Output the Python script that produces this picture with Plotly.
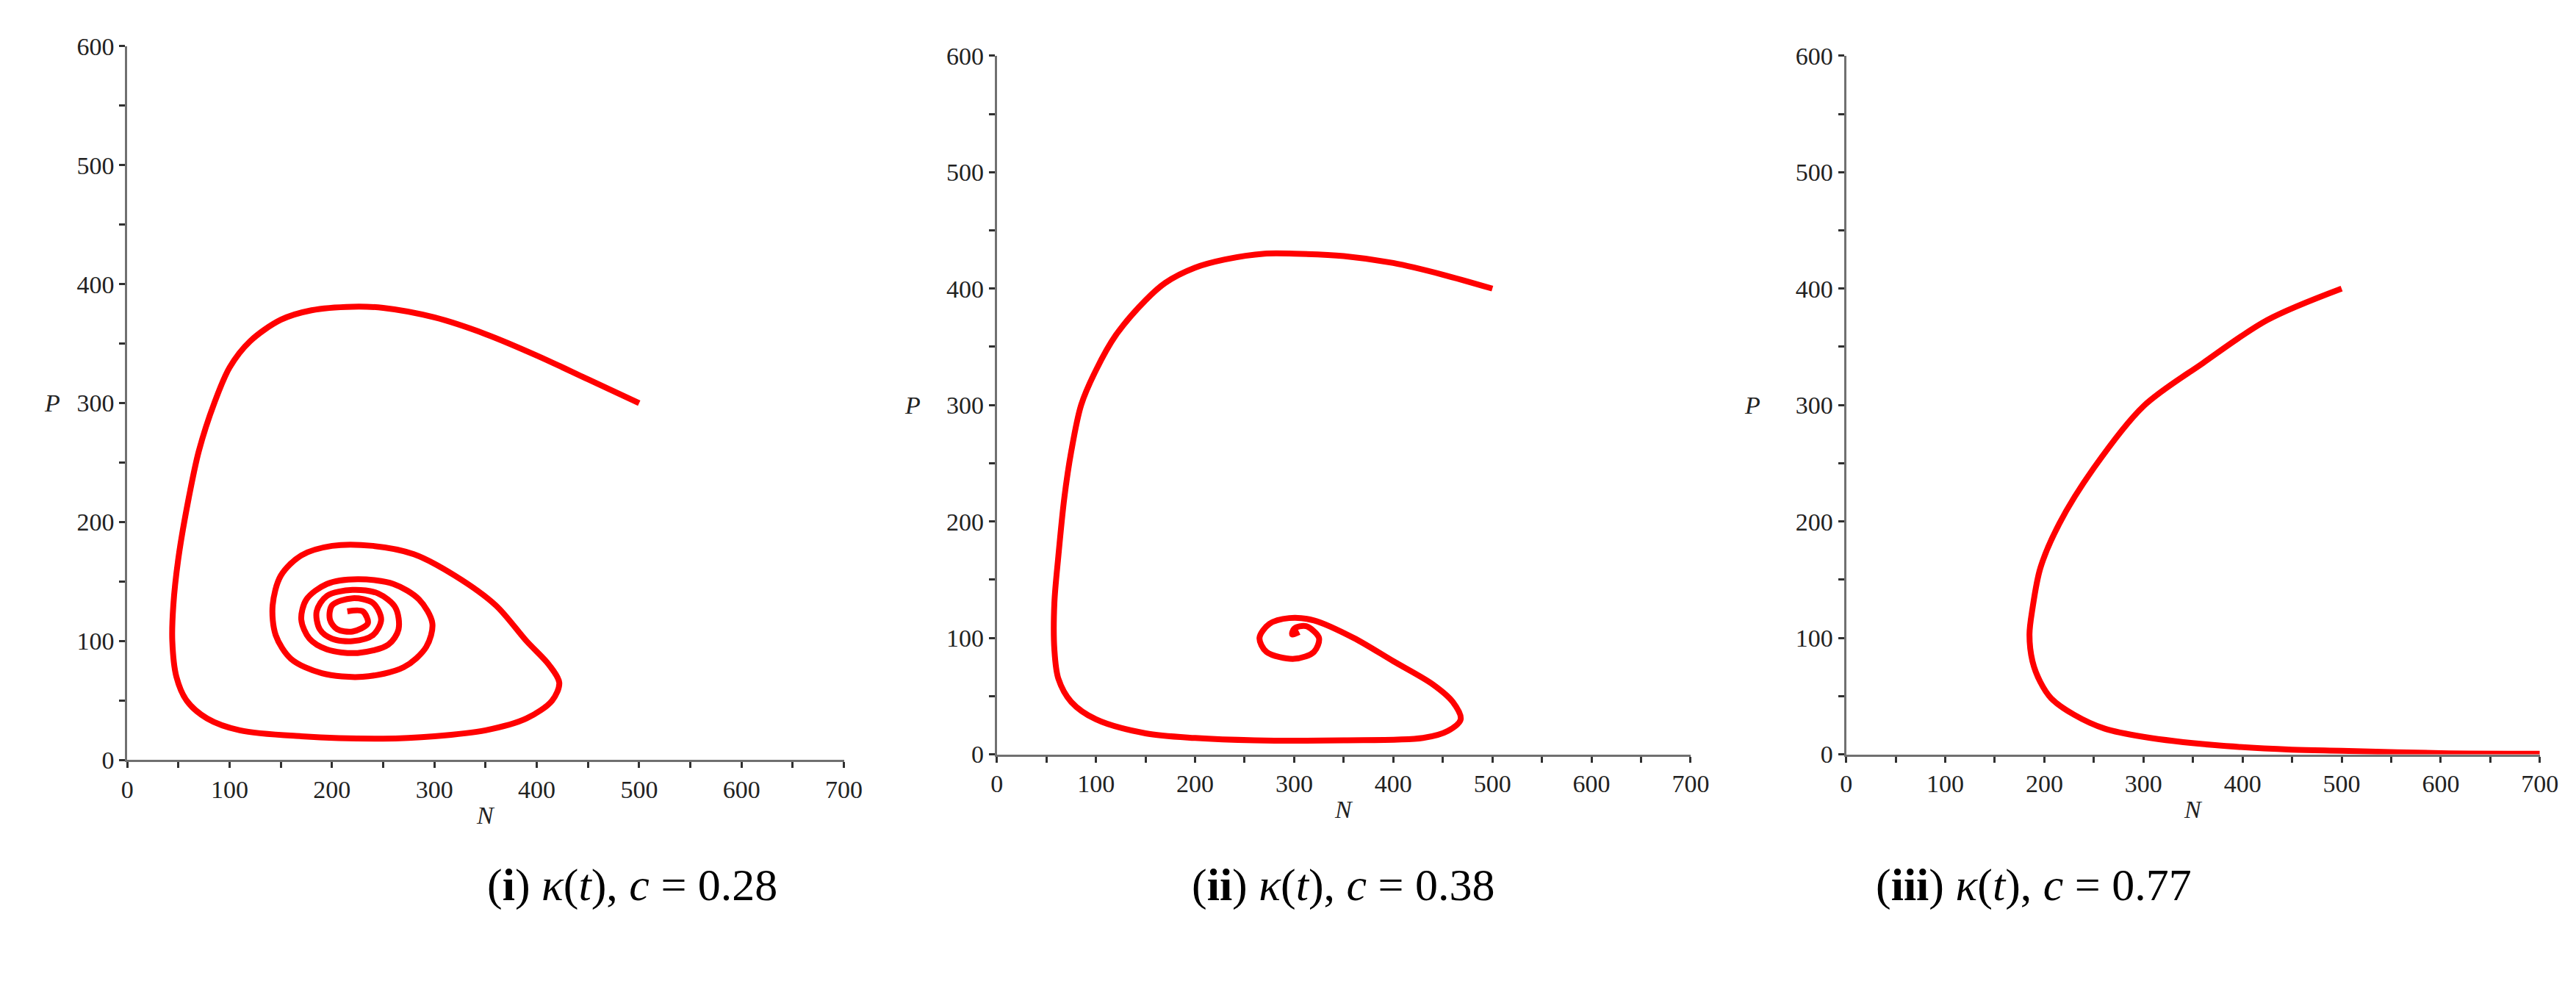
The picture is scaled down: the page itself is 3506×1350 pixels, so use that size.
import plotly.graph_objects as go

# Panel (i): c = 0.28, trajectory spiralling into the focus
n1 = [500, 450, 400, 350, 300, 250, 220, 180, 150, 120, 100, 85, 70, 60, 50, 45, 44, 48, 58, 78,
      110, 170, 250, 300, 350, 390, 415, 422, 412, 390, 360, 320, 280, 240, 200, 170, 150, 142,
      145, 160, 190, 230, 270, 292, 298, 285, 260, 225, 195, 175, 170, 178, 195, 225, 255, 265,
      262, 245, 220, 195, 185, 188, 200, 220, 240, 248, 240, 220, 200, 198, 205, 220, 235, 230, 215]
p1 = [300, 320, 340, 358, 372, 380, 381, 378, 370, 352, 330, 300, 260, 220, 170, 130, 100, 70, 50, 35,
      25, 20, 18, 20, 25, 35, 50, 65, 80, 100, 130, 155, 173, 180, 180, 172, 155, 130,
      105, 85, 73, 70, 78, 95, 115, 135, 148, 152, 148, 135, 118, 102, 93, 90, 97, 110,
      128, 140, 143, 138, 125, 110, 102, 100, 105, 118, 132, 136, 130, 118, 110, 108, 115, 125, 125]

# Panel (ii): c = 0.38
n2 = [500, 450, 400, 350, 300, 270, 230, 200, 170, 150, 120, 100, 85, 75, 68, 62, 58, 58, 62, 75,
      100, 150, 200, 260, 350, 430, 455, 468, 460, 440, 400, 360, 320, 295, 275, 265, 272, 300,
      320, 325, 312, 300, 298, 305]
p2 = [400, 412, 422, 428, 430, 430, 425, 418, 405, 390, 360, 330, 300, 260, 220, 170, 130, 90, 65, 45,
      30, 18, 14, 12, 12, 14, 20, 30, 45, 60, 80, 100, 115, 117, 112, 100, 88, 82,
      88, 100, 110, 108, 103, 105]

# Panel (iii): c = 0.77
n3 = [500, 425, 360, 300, 250, 215, 196, 188, 185, 188, 196, 207, 230, 261, 300, 370, 450, 500, 600, 700]
p3 = [400, 373, 336, 299, 246, 198, 160, 125, 103, 80, 62, 48, 34, 22, 15, 8, 4, 3, 1, 0.5]

panels = [(n1, p1), (n2, p2), (n3, p3)]
captions = ["(<b>i</b>) <i>κ</i>(<i>t</i>), <i>c</i> = 0.28",
            "(<b>ii</b>) <i>κ</i>(<i>t</i>), <i>c</i> = 0.38",
            "(<b>iii</b>) <i>κ</i>(<i>t</i>), <i>c</i> = 0.77"]

x_domains = [(0.045, 0.326), (0.386, 0.658), (0.719, 0.991)]
y_domains = [(0.232, 0.972), (0.238, 0.962), (0.238, 0.962)]

x_ticks = list(range(0, 701, 50))
y_ticks = list(range(0, 601, 50))
FONT = "Liberation Serif"

fig = go.Figure()
for i, (n, p) in enumerate(panels):
    k = "" if i == 0 else str(i + 1)
    fig.add_trace(go.Scatter(x=n, y=p, mode="lines", xaxis="x" + k, yaxis="y" + k,
                             line=dict(color="#ff0000", width=8, shape="spline", smoothing=0.9),
                             showlegend=False))
    common = dict(showgrid=False, zeroline=False, showline=True, linecolor="#707070", linewidth=3,
                  ticks="outside", ticklen=8, tickwidth=3, tickcolor="#303030",
                  tickfont=dict(family=FONT, size=34, color="#222"))
    fig.layout["xaxis" + k] = dict(domain=x_domains[i], range=[0, 700], anchor="y" + k,
                                   tickvals=x_ticks,
                                   ticktext=[str(v) if v % 100 == 0 else "" for v in x_ticks],
                                   **common)
    fig.layout["yaxis" + k] = dict(domain=y_domains[i], range=[0, 600], anchor="x" + k,
                                   tickvals=y_ticks,
                                   ticktext=[str(v) if v % 100 == 0 else "" for v in y_ticks],
                                   **common)
    xa = "x" + k
    ya = "y" + k
    fig.add_annotation(x=350, y=0, xref=xa, yref=ya, yshift=-75, text="<i>N</i>",
                       showarrow=False, font=dict(family=FONT, size=34, color="#222"))
    fig.add_annotation(x=x_domains[i][0], y=300, xref="paper", yref=ya, xshift=-115,
                       text="<i>P</i>", showarrow=False,
                       font=dict(family=FONT, size=34, color="#222"))
    fig.add_annotation(x=(x_domains[i][0] + x_domains[i][1]) / 2, y=0.075, xref="paper", yref="paper",
                       text=captions[i], showarrow=False,
                       font=dict(family=FONT, size=62, color="#000"))

fig.update_layout(width=3506, height=1350, margin=dict(l=0, r=0, t=0, b=0),
                  paper_bgcolor="white", plot_bgcolor="white")
fig.write_html("out.html")
